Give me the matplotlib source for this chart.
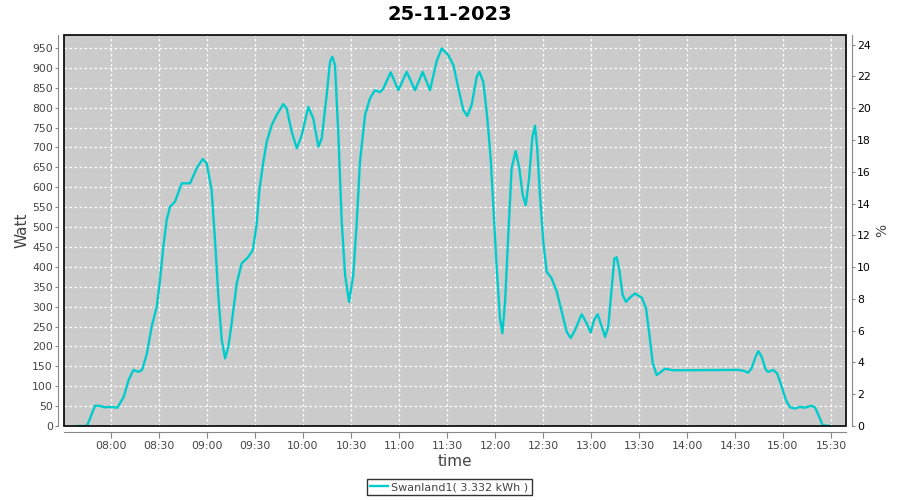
import matplotlib
matplotlib.use("Agg")
import matplotlib.pyplot as plt
from matplotlib.patches import Rectangle

title = "25-11-2023"
series_name = "Swanland1( 3.332 kWh )"

# time in minutes since midnight, power in Watt
time_min = [459.4, 465.0, 470.0, 472.5, 476.0, 479.4, 484.0, 488.0, 491.0, 494.0,
            497.0, 499.4, 502.3, 505.4, 508.6, 510.6, 512.7, 514.8, 516.9, 520.0,
            524.2, 529.4, 533.6, 537.3, 539.8, 542.9, 545.0, 547.1, 549.2, 551.3,
            553.3, 555.4, 558.6, 561.7, 565.8, 568.6, 571.1, 572.7, 575.2, 577.3,
            580.4, 583.6, 587.7, 589.8, 592.9, 596.1, 599.2, 603.3, 606.4, 609.6,
            611.7, 614.8, 616.9, 618.3, 620.0, 622.1, 624.2, 626.3, 628.8, 631.4,
            633.6, 635.6, 638.8, 641.9, 645.0, 648.1, 650.2, 654.8, 659.6, 664.8,
            670.0, 674.8, 679.4, 683.6, 686.7, 690.8, 694.0, 697.1, 700.2, 702.7,
            705.4, 708.6, 710.2, 712.7, 715.2, 717.3, 719.4, 721.1, 723.1, 724.6,
            726.3, 728.3, 730.4, 732.9, 735.2, 737.3, 739.2, 741.3, 743.3, 745.0,
            746.4, 748.1, 750.2, 752.3, 755.4, 758.6, 761.7, 764.8, 767.3, 770.0,
            774.2, 777.3, 779.8, 781.9, 784.2, 786.7, 788.8, 790.8, 793.0, 794.6,
            796.1, 797.7, 799.8, 801.9, 804.4, 807.5, 811.7, 814.4, 816.4, 818.6,
            821.1, 823.1, 826.3, 831.4, 872.0, 875.2, 878.3, 880.4, 882.5, 884.6,
            886.7, 889.2, 890.8, 894.0, 896.4, 899.2, 901.9, 904.4, 907.5, 910.6,
            913.8, 917.5, 920.0, 922.1, 924.8, 929.4]
watt = [0, 0, 51, 51, 47, 48, 46, 74, 116, 141,
        136, 141, 180, 250, 300, 367, 451, 518, 551, 564,
        610, 610, 648, 671, 660, 593, 467, 325, 216, 170,
        199, 258, 359, 409, 425, 442, 509, 593, 664, 714,
        756, 782, 809, 798, 740, 698, 731, 802, 773, 702,
        723, 832, 916, 928, 907, 731, 513, 379, 312, 379,
        513, 664, 782, 824, 844, 839, 848, 889, 844, 890,
        844, 890, 844, 918, 949, 932, 907, 849, 794, 779,
        807, 878, 890, 865, 773, 673, 518, 396, 271, 233,
        312, 480, 648, 691, 648, 581, 555, 622, 723, 755,
        698, 581, 463, 388, 371, 338, 287, 237, 221, 241,
        281, 258, 235, 266, 281, 250, 224, 250, 350, 421,
        424, 392, 329, 312, 323, 333, 323, 296, 233, 158,
        128, 134, 144, 140, 141, 139, 134, 145, 170, 188,
        174, 142, 136, 141, 132, 99, 65, 47, 44, 48,
        46, 51, 47, 28, 2, 0]

x_ticks = [480 + 30 * i for i in range(16)]
x_tick_labels = ["%02d:%02d" % (t // 60, t % 60) for t in x_ticks]
watt_ticks = list(range(0, 1000, 50))
pct_ticks = list(range(0, 26, 2))

line_color = "#00cccc"
text_color = "#444444"
axis_gray = "#888888"

fig = plt.figure(figsize=(9, 5), dpi=100)
ax = fig.add_axes([64 / 900, 1 - 426 / 500, (846 - 64) / 900, (426 - 35) / 500])
ax.set_facecolor("#cbcbcb")

ax.plot(time_min, watt, color=line_color, lw=1.7, solid_joinstyle="round", zorder=3)

ax.set_xlim(450.6, 939.4)
ax.set_ylim(0, 982.7)
ax.set_xticks(x_ticks)
ax.set_xticklabels(x_tick_labels)
ax.set_yticks(watt_ticks)
ax.grid(True, color="white", linestyle=(0, (2, 2)), lw=0.9)
ax.set_axisbelow(True)

for s in ["left", "bottom"]:
    ax.spines[s].set_position(("outward", 4))
    ax.spines[s].set_color(axis_gray)
ax.spines["top"].set_visible(False)
ax.spines["right"].set_visible(False)
ax.add_patch(Rectangle((0, 0), 1, 1, transform=ax.transAxes, fill=False,
                       edgecolor="black", lw=1.2, clip_on=False, zorder=5))

ax.tick_params(axis="both", colors=axis_gray, labelcolor=text_color, labelsize=7.8,
               length=2, width=0.8)
ax.tick_params(axis="x", length=4, pad=3)
ax.tick_params(axis="y", pad=2)

ax2 = ax.twinx()
ax2.set_ylim(0, 24.61)
ax2.set_yticks(pct_ticks)
for s in ["left", "top", "bottom"]:
    ax2.spines[s].set_visible(False)
ax2.spines["right"].set_position(("outward", 4))
ax2.spines["right"].set_color(axis_gray)
ax2.tick_params(axis="y", colors=axis_gray, labelcolor="black", labelsize=7.8,
                length=2, width=0.8, pad=2)
ax2.set_ylabel("%", fontsize=10, color=text_color, labelpad=3)

ax.set_ylabel("Watt", fontsize=11, color=text_color, labelpad=2)
ax.set_xlabel("time", fontsize=11, color=text_color, labelpad=2)

fig.text(0.5, 1 - 15 / 500, title, ha="center", va="center", fontsize=14,
         fontweight="bold", color="black")

leg = fig.legend([ax.lines[0]], [series_name], loc="center",
                 bbox_to_anchor=(449.5 / 900, 1 - 487 / 500), frameon=True,
                 fancybox=False, edgecolor="black", fontsize=8, handlelength=1.6,
                 handletextpad=0.3, borderpad=0.3, borderaxespad=0)
leg.get_frame().set_linewidth(1.0)
for t in leg.get_texts():
    t.set_color(text_color)

fig.savefig("out.png", dpi=100)
